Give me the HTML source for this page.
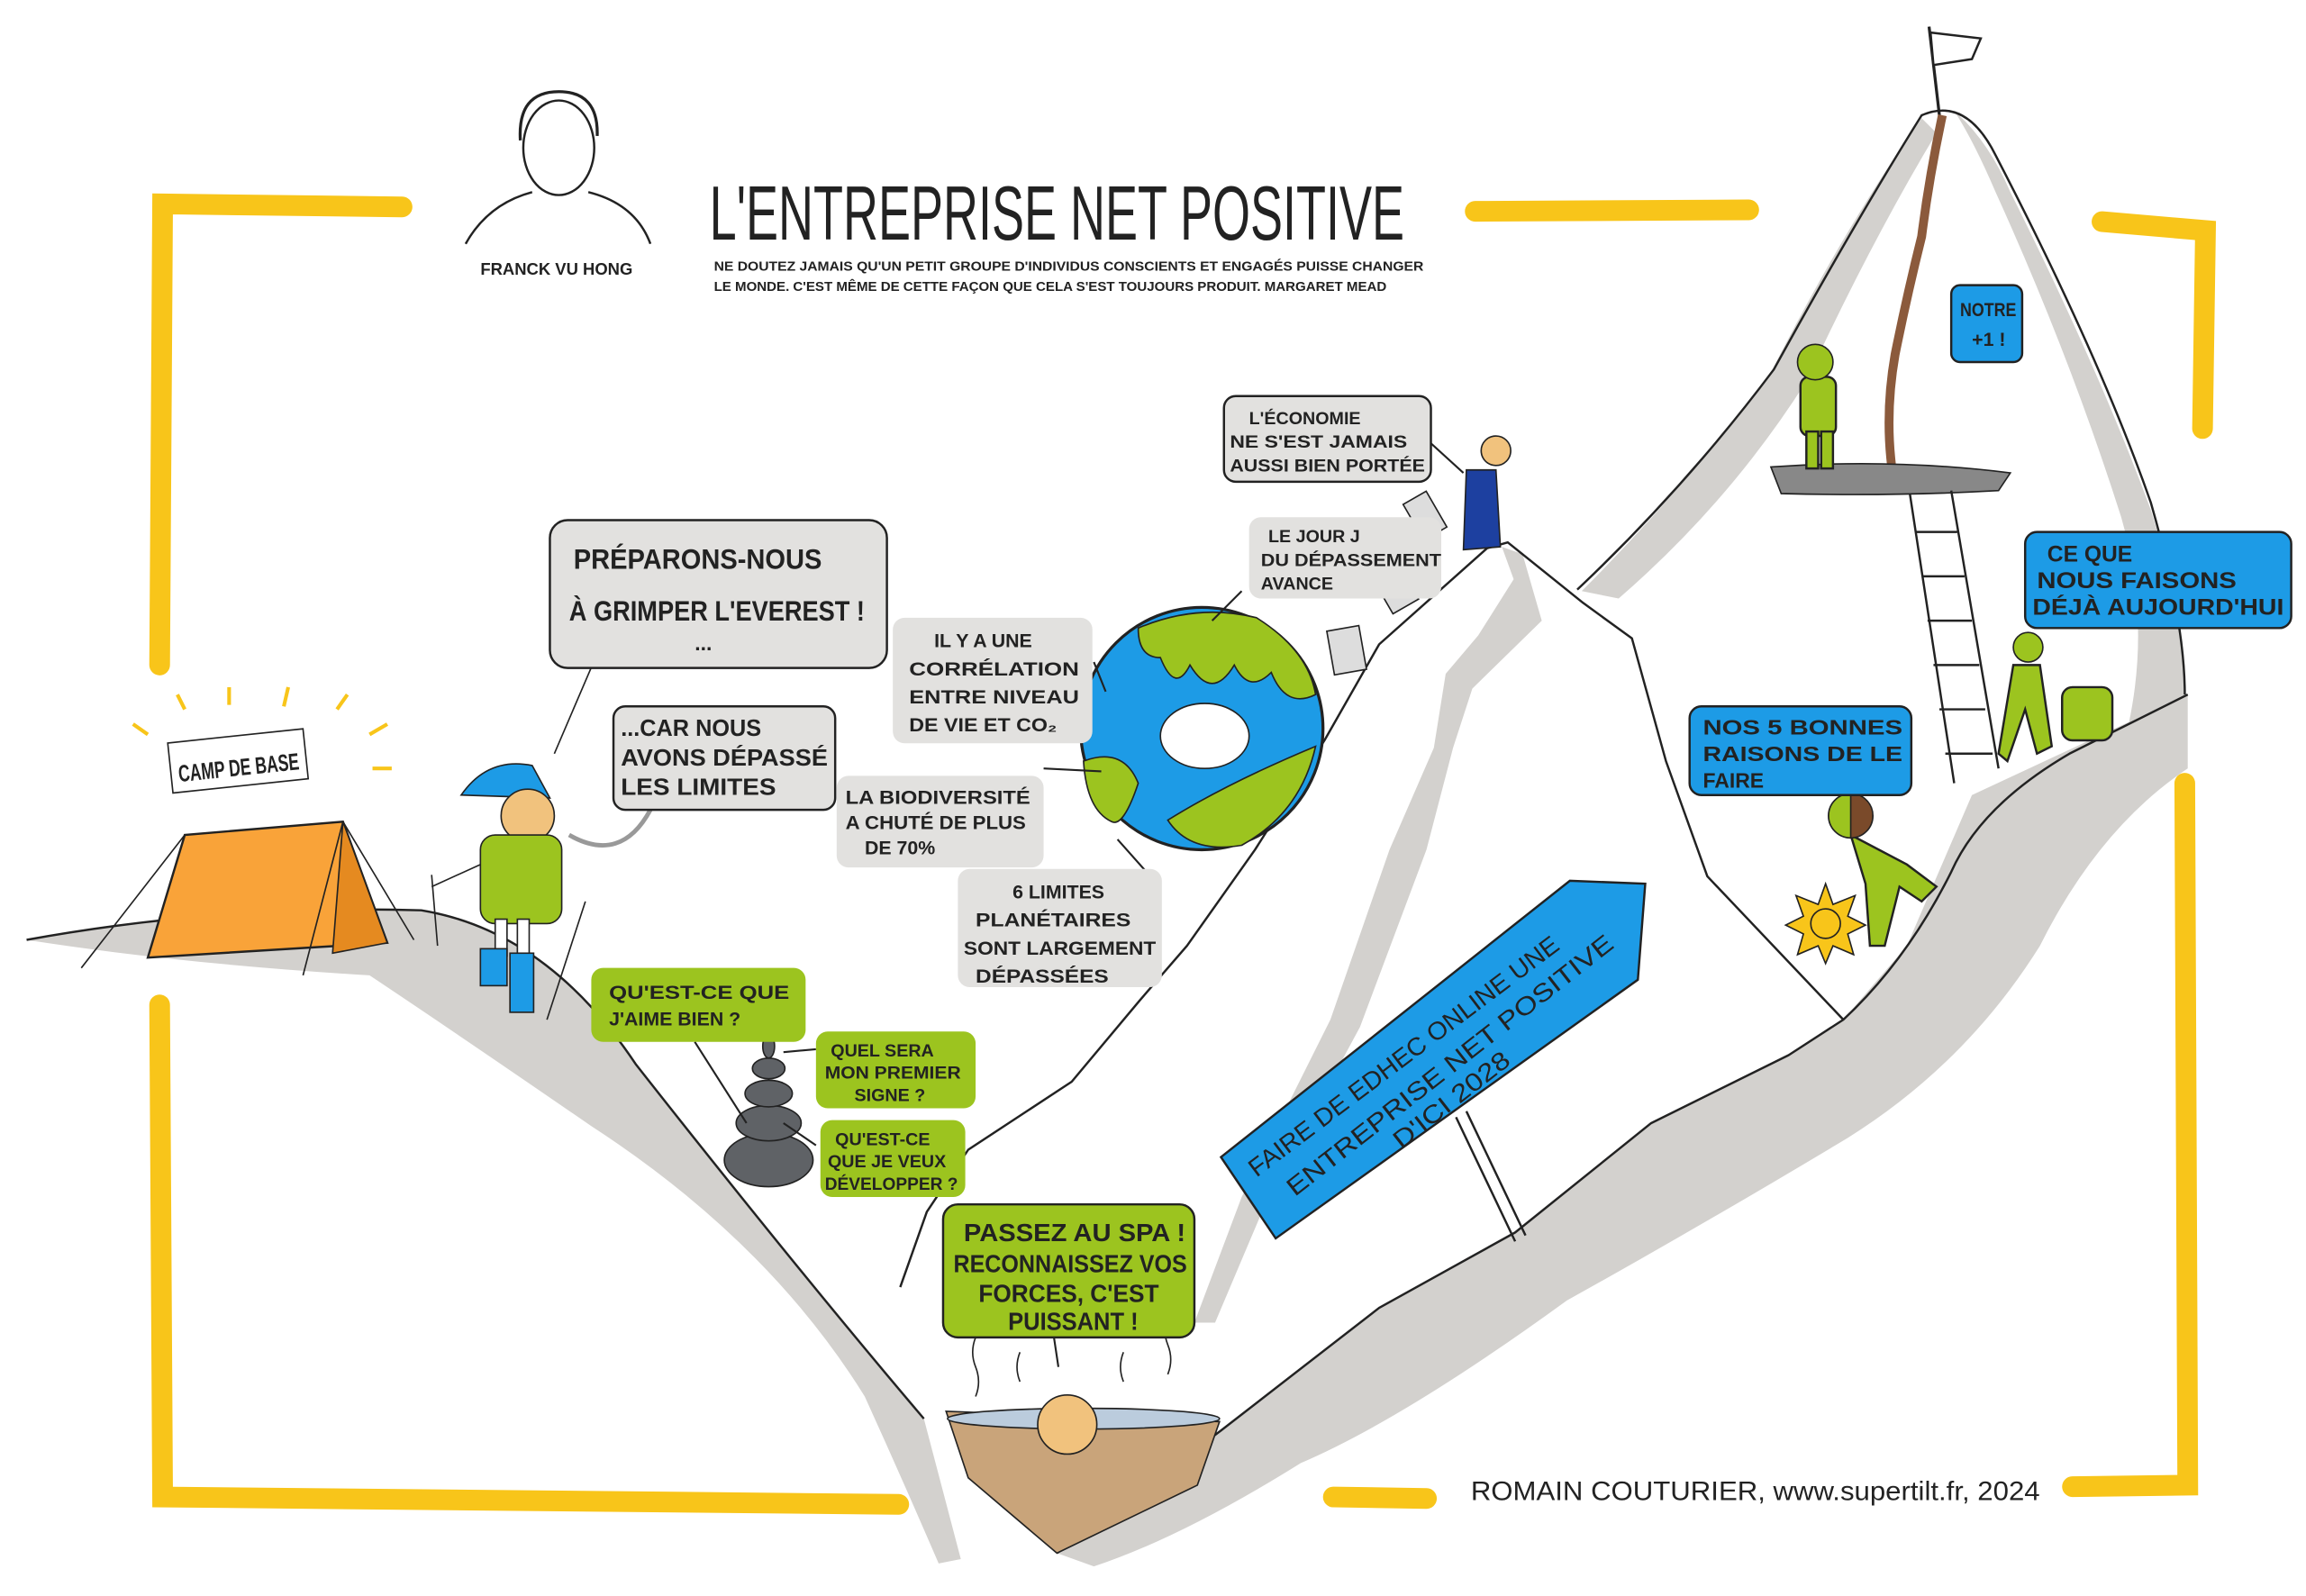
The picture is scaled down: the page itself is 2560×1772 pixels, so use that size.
<!DOCTYPE html>
<html><head><meta charset="utf-8"><style>
html,body{margin:0;padding:0;background:#fff;}
svg{display:block}
text{font-family:"Liberation Sans",sans-serif;font-weight:bold;fill:#222;}
</style></head><body>
<svg width="2560" height="1772" viewBox="0 0 1560 1080" preserveAspectRatio="none" xmlns="http://www.w3.org/2000/svg">
<rect width="1560" height="1080" fill="#fff"/>
<!-- yellow brackets -->
<g stroke="#F8C51A" stroke-width="14" stroke-linecap="round" fill="none">
<path d="M272,140 L110,138 L108,450"/>
<path d="M108,680 L110,1013 L608,1018"/>
<path d="M998,143 L1183,142"/>
<path d="M1422,150 L1492,156 L1490,290"/>
<path d="M1478,530 L1480,1005 L1402,1006"/>
<path d="M902,1013 L965,1014"/>
</g>

<!-- right big mountain (white) -->
<path d="M1067,399 Q1140,330 1200,250 Q1255,150 1300,78 Q1330,65 1350,105 Q1420,240 1455,340 Q1478,420 1478,470 Q1400,520 1334,538 Q1290,640 1247,690 Q1180,600 1127,515 Q1100,440 1067,399 Z" fill="#fff"/>
<!-- right mountain inner-left gray stripe -->
<path d="M1070,400 Q1140,330 1198,252 Q1250,150 1300,80 L1310,90 Q1265,165 1222,258 Q1170,340 1095,405 Z" fill="#D3D1CE"/>
<!-- right mountain inner-right gray stripe -->
<path d="M1322,75 Q1345,95 1360,130 Q1420,250 1455,345 Q1478,420 1478,470 L1440,490 Q1455,420 1435,350 Q1400,240 1350,130 Q1335,95 1322,75 Z" fill="#D3D1CE"/>
<path d="M1067,399 Q1140,330 1200,250 Q1255,150 1300,78 Q1330,65 1350,105 Q1420,240 1455,340 Q1478,420 1478,470" fill="none" stroke="#222" stroke-width="1.5"/>

<!-- center mountain white -->
<path d="M609,871 L627,820 L655,778 L725,732 L771,677 L803,640 L849,575 L896,501 L933,436 L1006,371 L1020,367 L1071,408 L1104,432 L1127,515 L1155,593 L1247,690 L1210,714 L1117,760 L1025,834 L933,885 L826,968 L715,1051 L640,960 Z" fill="#fff"/>
<!-- center ridge gray stripe -->
<path d="M1016,370 L1024,392 L1000,430 L978,456 L970,506 L940,575 L900,690 L840,810 L808,895 L822,895 L858,810 L920,695 L965,575 L983,506 L996,466 L1043,420 L1030,375 Z" fill="#D3D1CE"/>
<!-- center outlines -->
<path d="M609,871 L627,820 L655,778 L725,732 L771,677 L803,640 L849,575 L896,501 L933,436 L1006,371 L1020,367 L1071,408 L1104,432 L1127,515 L1155,593 L1247,690" fill="none" stroke="#222" stroke-width="1.5" stroke-linejoin="round"/>

<!-- left hill gray band -->
<path d="M18,636 Q150,612 285,616 Q370,630 430,720 Q540,860 625,960 L650,1055 L635,1058 Q610,1000 585,945 Q520,840 400,762 Q310,700 250,660 Q120,652 18,636 Z" fill="#D3D1CE"/>
<path d="M18,636 Q150,612 285,616 Q370,630 430,720 Q540,860 625,960" fill="none" stroke="#222" stroke-width="1.5"/>
<!-- bottom right gray band -->
<path d="M715,1051 L826,968 L933,885 L1025,834 L1117,760 L1210,714 L1247,690 L1290,640 L1334,538 L1480,470 L1480,520 Q1420,560 1380,640 Q1330,720 1250,770 Q1150,830 1060,880 Q950,960 880,990 Q800,1040 740,1060 Z" fill="#D3D1CE"/>
<path d="M715,1051 L826,968 L933,885 L1025,834 L1117,760 L1210,714 L1247,690 Q1290,650 1320,590 Q1340,545 1400,510 L1480,470" fill="none" stroke="#222" stroke-width="1.5" stroke-linejoin="round"/>

<!-- flag -->
<path d="M1305,18 L1312,78" stroke="#222" stroke-width="2"/>
<path d="M1306,22 L1340,26 L1334,40 L1308,44 Z" fill="#fff" stroke="#222" stroke-width="1.5"/>
<!-- rope -->
<path d="M1314,78 Q1305,120 1300,160 Q1290,200 1282,240 Q1275,280 1280,318" stroke="#8B5A3C" stroke-width="6" fill="none"/>
<!-- ledge -->
<path d="M1198,316 Q1280,310 1360,320 L1352,332 Q1280,336 1205,334 Z" fill="#888" stroke="#222"/>
<!-- ladder -->
<g stroke="#222" stroke-width="1.5"><path d="M1292,334 L1322,530 M1320,332 L1352,520 M1296,360 L1324,360 M1300,390 L1329,390 M1304,420 L1334,420 M1308,450 L1339,450 M1312,480 L1343,480 M1316,510 L1348,510"/></g>
<!-- climbers -->
<g fill="#9CC41F" stroke="#222" stroke-width="1.5">
<rect x="1218" y="255" width="24" height="40" rx="6"/><rect x="1222" y="292" width="8" height="25"/><rect x="1232" y="292" width="8" height="25"/>
<path d="M1362,450 L1380,450 L1388,505 L1378,510 L1370,480 L1358,515 L1352,510 Z"/><rect x="1395" y="465" width="34" height="36" rx="7"/>
<path d="M1252,565 L1290,585 L1310,600 L1300,610 L1285,600 L1275,640 L1265,640 L1262,598 Z"/>
</g>
<circle cx="1228" cy="245" r="12" fill="#9CC41F" stroke="#222"/>
<circle cx="1372" cy="438" r="10" fill="#9CC41F" stroke="#222"/>
<circle cx="1252" cy="552" r="15" fill="#7A4A2A" stroke="#222"/>
<path d="M1237,552 A15,15 0 0 1 1252,537 L1252,567 A15,15 0 0 1 1237,552Z" fill="#9CC41F" stroke="#222"/>
<!-- sun -->
<path d="M1235,598 L1240,612 L1255,606 L1250,620 L1262,626 L1250,632 L1254,646 L1240,640 L1235,652 L1230,640 L1216,646 L1220,632 L1208,626 L1220,620 L1215,606 L1230,612 Z" fill="#F8C51A" stroke="#222"/>
<circle cx="1235" cy="625" r="10" fill="#F8C51A" stroke="#222"/>
<!-- tent -->
<path d="M100,648 L125,565 L232,556 L262,638 Z" fill="#F9A339" stroke="#222" stroke-width="1.5"/>
<path d="M232,556 L262,638 L225,645 Z" fill="#E58A20" stroke="#222"/>
<path d="M55,655 L125,565 M232,556 L280,636 M232,556 L205,660" stroke="#222"/>
<rect x="115" y="498" width="92" height="34" fill="#fff" stroke="#222" transform="rotate(-6 160 515)"/>
<text x="120" y="525" font-size="16" transform="rotate(-6 160 515)" textLength="82" lengthAdjust="spacingAndGlyphs">CAMP DE BASE</text>
<g stroke="#F8C51A" stroke-width="2.5"><path d="M90,490 L100,497 M120,470 L125,480 M155,465 L155,477 M195,465 L192,478 M235,470 L228,480 M262,490 L250,497 M265,520 L252,520"/></g>
<!-- hiker -->
<path d="M312,538 Q330,512 360,518 L372,540 Z" fill="#1D9BE6" stroke="#222"/>
<circle cx="357" cy="552" r="18" fill="#F1C27D" stroke="#222"/>
<rect x="325" y="565" width="55" height="60" rx="10" fill="#9CC41F" stroke="#222"/>
<rect x="335" y="622" width="8" height="25" fill="#fff" stroke="#222"/><rect x="350" y="622" width="8" height="25" fill="#fff" stroke="#222"/>
<rect x="325" y="642" width="18" height="25" fill="#1D9BE6" stroke="#222"/><rect x="345" y="645" width="16" height="40" fill="#1D9BE6" stroke="#222"/>
<path d="M292,592 L296,640 M396,610 L370,690 M325,585 L292,600" stroke="#222"/>
<path d="M385,565 Q420,585 440,548" fill="none" stroke="#999" stroke-width="3"/>
<path d="M375,510 L405,440" fill="none" stroke="#222"/>
<!-- earth -->
<circle cx="813" cy="493" r="82" fill="#1D9BE6" stroke="#222" stroke-width="2"/>
<path d="M770,425 Q810,408 850,418 Q885,440 890,470 Q870,480 860,455 Q845,470 835,450 Q820,475 805,450 Q795,470 785,445 Q770,445 770,425 Z M733,515 Q760,505 770,530 Q760,560 752,556 Q735,548 733,515 Z M790,555 Q830,530 890,505 Q880,550 840,572 Q805,578 790,555 Z" fill="#9CC41F" stroke="#222"/>
<ellipse cx="815" cy="498" rx="30" ry="22" fill="#fff" stroke="#222"/>
<!-- money -->
<g fill="#ddd" stroke="#222"><rect x="900" y="425" width="22" height="30" transform="rotate(-10 911 440)"/><rect x="935" y="390" width="20" height="22" transform="rotate(-30 945 400)"/><rect x="955" y="335" width="18" height="28" transform="rotate(-30 964 349)"/></g>
<!-- stones -->
<ellipse cx="520" cy="785" rx="30" ry="18" fill="#5f6266" stroke="#222"/><ellipse cx="520" cy="760" rx="22" ry="12" fill="#5f6266" stroke="#222"/><ellipse cx="520" cy="740" rx="16" ry="9" fill="#5f6266" stroke="#222"/><ellipse cx="520" cy="723" rx="11" ry="7" fill="#5f6266" stroke="#222"/><ellipse cx="520" cy="708" rx="4" ry="8" fill="#5f6266" stroke="#222"/>
<!-- spa -->
<path d="M640,955 L825,962 L810,1005 L715,1051 L655,1000 Z" fill="#C9A47A" stroke="#222"/>
<ellipse cx="733" cy="960" rx="92" ry="7" fill="#bcd" stroke="#222"/>
<circle cx="722" cy="964" r="20" fill="#F1C27D" stroke="#222"/>
<g stroke="#222" fill="none"><path d="M660,905 q-4,10 0,20 q4,10 0,20 M690,915 q-4,10 0,20 M760,915 q-4,10 0,20 M790,890 q-4,10 0,20 q4,10 0,20"/></g>
<!-- businessman -->
<path d="M992,318 L1012,318 L1015,370 L990,372 Z" fill="#1D40A0" stroke="#222"/>
<circle cx="1012" cy="305" r="10" fill="#F1C27D" stroke="#222"/>
<!-- sign -->
<path d="M985,756 L1025,840 M992,752 L1032,836" stroke="#222" stroke-width="1.5"/>
<path d="M826,783 L1062,596 L1113,598 L1108,663 L863,838 Z" fill="#1D9BE6" stroke="#222" stroke-width="1.5"/>
<text x="850" y="797" font-size="17" font-weight="normal" style="font-weight:normal" transform="rotate(-37 850 797)" textLength="258" lengthAdjust="spacingAndGlyphs">FAIRE DE EDHEC ONLINE UNE</text>
<text x="876" y="810" font-size="17" font-weight="normal" style="font-weight:normal" transform="rotate(-38 876 810)" textLength="275" lengthAdjust="spacingAndGlyphs">ENTREPRISE NET POSITIVE</text>
<text x="948" y="778" font-size="17" font-weight="normal" style="font-weight:normal" transform="rotate(-38 948 778)" textLength="95" lengthAdjust="spacingAndGlyphs">D'ICI 2028</text>
<!-- connector lines -->
<g stroke="#222" fill="none" stroke-width="1.3">
<path d="M740,448 L748,468 M706,520 L745,522 M756,568 L780,595 M820,420 L840,400 M470,705 L505,760 M530,712 L552,710 M530,760 L552,775 M713,905 L716,925 M968,300 L990,320"/>
</g>
<!-- bubbles -->
<g stroke="#222" stroke-width="1.5">
<rect x="372" y="352" width="228" height="100" rx="12" fill="#E2E1DF"/>
<rect x="415" y="478" width="150" height="70" rx="8" fill="#E2E1DF"/>
<rect x="604" y="418" width="135" height="85" rx="8" fill="#E2E1DF" stroke="none"/>
<rect x="566" y="525" width="140" height="62" rx="8" fill="#E2E1DF" stroke="none"/>
<rect x="648" y="588" width="138" height="80" rx="8" fill="#E2E1DF" stroke="none"/>
<rect x="845" y="350" width="130" height="55" rx="8" fill="#E2E1DF" stroke="none"/>
<rect x="828" y="268" width="140" height="58" rx="8" fill="#E2E1DF"/>
<rect x="400" y="655" width="145" height="50" rx="8" fill="#9CC41F" stroke="none"/>
<rect x="552" y="698" width="108" height="52" rx="8" fill="#9CC41F" stroke="none"/>
<rect x="555" y="758" width="98" height="52" rx="8" fill="#9CC41F" stroke="none"/>
<rect x="638" y="815" width="170" height="90" rx="10" fill="#9CC41F"/>
<rect x="1320" y="193" width="48" height="52" rx="6" fill="#1D9BE6"/>
<rect x="1370" y="360" width="180" height="65" rx="8" fill="#1D9BE6"/>
<rect x="1143" y="478" width="150" height="60" rx="8" fill="#1D9BE6"/>
</g>
<g font-size="16" font-weight="normal">
<text x="388" y="385" font-size="19" textLength="168" lengthAdjust="spacingAndGlyphs">PRÉPARONS-NOUS</text>
<text x="385" y="420" font-size="19" textLength="200" lengthAdjust="spacingAndGlyphs">À GRIMPER L'EVEREST !</text>
<text x="470" y="440" font-size="14">...</text>
<text x="420" y="498" textLength="95" lengthAdjust="spacingAndGlyphs">...CAR NOUS</text><text x="420" y="518" textLength="140" lengthAdjust="spacingAndGlyphs">AVONS DÉPASSÉ</text><text x="420" y="538" textLength="105" lengthAdjust="spacingAndGlyphs">LES LIMITES</text>
<text x="632" y="438" font-size="13">IL Y A UNE</text><text x="615" y="457" font-size="13" textLength="115" lengthAdjust="spacingAndGlyphs">CORRÉLATION</text><text x="615" y="476" font-size="13" textLength="115" lengthAdjust="spacingAndGlyphs">ENTRE NIVEAU</text><text x="615" y="495" font-size="13" textLength="100" lengthAdjust="spacingAndGlyphs">DE VIE ET CO₂</text>
<text x="572" y="544" font-size="13" textLength="125" lengthAdjust="spacingAndGlyphs">LA BIODIVERSITÉ</text><text x="572" y="561" font-size="13" textLength="122" lengthAdjust="spacingAndGlyphs">A CHUTÉ DE PLUS</text><text x="585" y="578" font-size="13">DE 70%</text>
<text x="685" y="608" font-size="13">6 LIMITES</text><text x="660" y="627" font-size="13" textLength="105" lengthAdjust="spacingAndGlyphs">PLANÉTAIRES</text><text x="652" y="646" font-size="13" textLength="130" lengthAdjust="spacingAndGlyphs">SONT LARGEMENT</text><text x="660" y="665" font-size="13" textLength="90" lengthAdjust="spacingAndGlyphs">DÉPASSÉES</text>
<text x="858" y="367" font-size="12">LE JOUR J</text><text x="853" y="383" font-size="12" textLength="122" lengthAdjust="spacingAndGlyphs">DU DÉPASSEMENT</text><text x="853" y="399" font-size="12">AVANCE</text>
<text x="845" y="287" font-size="12">L'ÉCONOMIE</text><text x="832" y="303" font-size="12" textLength="120" lengthAdjust="spacingAndGlyphs">NE S'EST JAMAIS</text><text x="832" y="319" font-size="12" textLength="132" lengthAdjust="spacingAndGlyphs">AUSSI BIEN PORTÉE</text>
<text x="412" y="676" font-size="13" textLength="122" lengthAdjust="spacingAndGlyphs">QU'EST-CE QUE</text><text x="412" y="694" font-size="13">J'AIME BIEN ?</text>
<text x="562" y="715" font-size="12">QUEL SERA</text><text x="558" y="730" font-size="12" textLength="92" lengthAdjust="spacingAndGlyphs">MON PREMIER</text><text x="578" y="745" font-size="12">SIGNE ?</text>
<text x="565" y="775" font-size="12">QU'EST-CE</text><text x="560" y="790" font-size="12">QUE JE VEUX</text><text x="558" y="805" font-size="12" textLength="90" lengthAdjust="spacingAndGlyphs">DÉVELOPPER ?</text>
<text x="652" y="840" font-size="17" textLength="150" lengthAdjust="spacingAndGlyphs">PASSEZ AU SPA !</text><text x="645" y="861" font-size="17" textLength="158" lengthAdjust="spacingAndGlyphs">RECONNAISSEZ VOS</text><text x="662" y="881" font-size="17" textLength="122" lengthAdjust="spacingAndGlyphs">FORCES, C'EST</text><text x="682" y="900" font-size="17" textLength="88" lengthAdjust="spacingAndGlyphs">PUISSANT !</text>
<text x="1326" y="214" font-size="13" textLength="38" lengthAdjust="spacingAndGlyphs">NOTRE</text><text x="1334" y="234" font-size="13">+1 !</text>
<text x="1385" y="380" font-size="15">CE QUE</text><text x="1378" y="398" font-size="15" textLength="135" lengthAdjust="spacingAndGlyphs">NOUS FAISONS</text><text x="1375" y="416" font-size="15" textLength="170" lengthAdjust="spacingAndGlyphs">DÉJÀ AUJOURD'HUI</text>
<text x="1152" y="497" font-size="14" textLength="135" lengthAdjust="spacingAndGlyphs">NOS 5 BONNES</text><text x="1152" y="515" font-size="14" textLength="135" lengthAdjust="spacingAndGlyphs">RAISONS DE LE</text><text x="1152" y="533" font-size="14">FAIRE</text>
</g>
<!-- title -->
<text x="480" y="162" font-size="52" font-weight="normal" style="font-weight:normal" textLength="470" lengthAdjust="spacingAndGlyphs">L'ENTREPRISE NET POSITIVE</text>
<text x="483" y="183" font-size="9" font-weight="normal" textLength="480" lengthAdjust="spacingAndGlyphs">NE DOUTEZ JAMAIS QU'UN PETIT GROUPE D'INDIVIDUS CONSCIENTS ET ENGAGÉS PUISSE CHANGER</text>
<text x="483" y="197" font-size="9" font-weight="normal" textLength="455" lengthAdjust="spacingAndGlyphs">LE MONDE. C'EST MÊME DE CETTE FAÇON QUE CELA S'EST TOUJOURS PRODUIT.   MARGARET MEAD</text>
<text x="325" y="186" font-size="11" textLength="103" lengthAdjust="spacingAndGlyphs">FRANCK VU HONG</text>
<!-- portrait -->
<ellipse cx="378" cy="100" rx="24" ry="32" fill="#fff" stroke="#222" stroke-width="1.5"/>
<path d="M352,95 Q350,62 378,62 Q405,62 404,92" fill="none" stroke="#222" stroke-width="2"/>
<path d="M315,165 Q330,138 360,130 M398,130 Q430,138 440,165" fill="none" stroke="#222" stroke-width="1.5"/>
<text x="995" y="1015" font-size="18" font-weight="normal" style="font-weight:normal" textLength="385" lengthAdjust="spacingAndGlyphs">ROMAIN COUTURIER, www.supertilt.fr, 2024</text>
</svg>
</body></html>
